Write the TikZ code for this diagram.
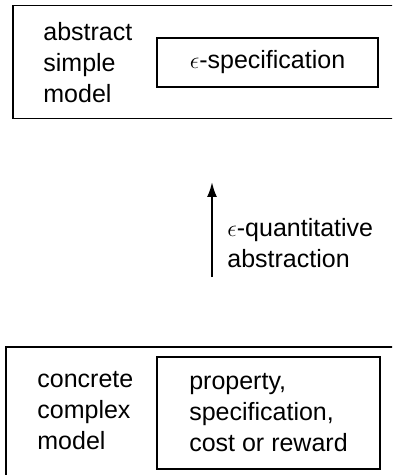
\documentclass[tikz,border=0pt]{standalone}
\usepackage{amsmath,amssymb}
\usepackage{fontspec}
\setmainfont{Liberation Sans}
\usepackage{tikz}
\usetikzlibrary{arrows.meta,positioning}
\tikzset{
	modelbox/.style={draw, line width=0.8pt, inner sep=0pt},
	propbox/.style={draw, line width=0.8pt, inner sep=0pt, align=left},
	txt/.style={inner sep=0pt, align=left, font=\fontsize{12.5}{15.5}\selectfont},
}

\begin{document}
\begin{tikzpicture}[x=0.5pt, y=-0.5pt, >={Latex[length=7.5pt, width=5pt]}]
	\clip (0,0) rectangle (392,475);
	% abstract side
	\node[modelbox, minimum width=193.5pt, minimum height=56.5pt] at (206.50,62.00) (absbox) {};
	\node[txt, anchor=west] at (43.00,63.00) (abslbl) {abstract\\simple\\model};
	\node[propbox, txt, minimum width=110.5pt, minimum height=24.5pt] at (267.50,62.50) (absspec) {$\epsilon$-specification};
	% concrete side
	\node[modelbox, minimum width=197pt, minimum height=71.5pt] at (203.00,418.50) (conbox) {};
	\node[txt, anchor=west] at (37.00,411.00) (conlbl) {concrete\\complex\\model};
	\node[propbox, txt, minimum width=111.5pt, minimum height=56pt] at (268.50,413.00) (conspec) {property,\\specification,\\cost or reward};
	% abstraction arrow
	\coordinate (arrlo) at (212.00,277.00);
	\coordinate (arrhi) at (212.00,182.00);
	\draw[line width=1pt, ->] (arrlo) -- (arrhi);
	\node[txt, anchor=west] at (227.00,243.00) (arrlbl) {$\epsilon$-quantitative\\abstraction};
\end{tikzpicture}
\end{document}
